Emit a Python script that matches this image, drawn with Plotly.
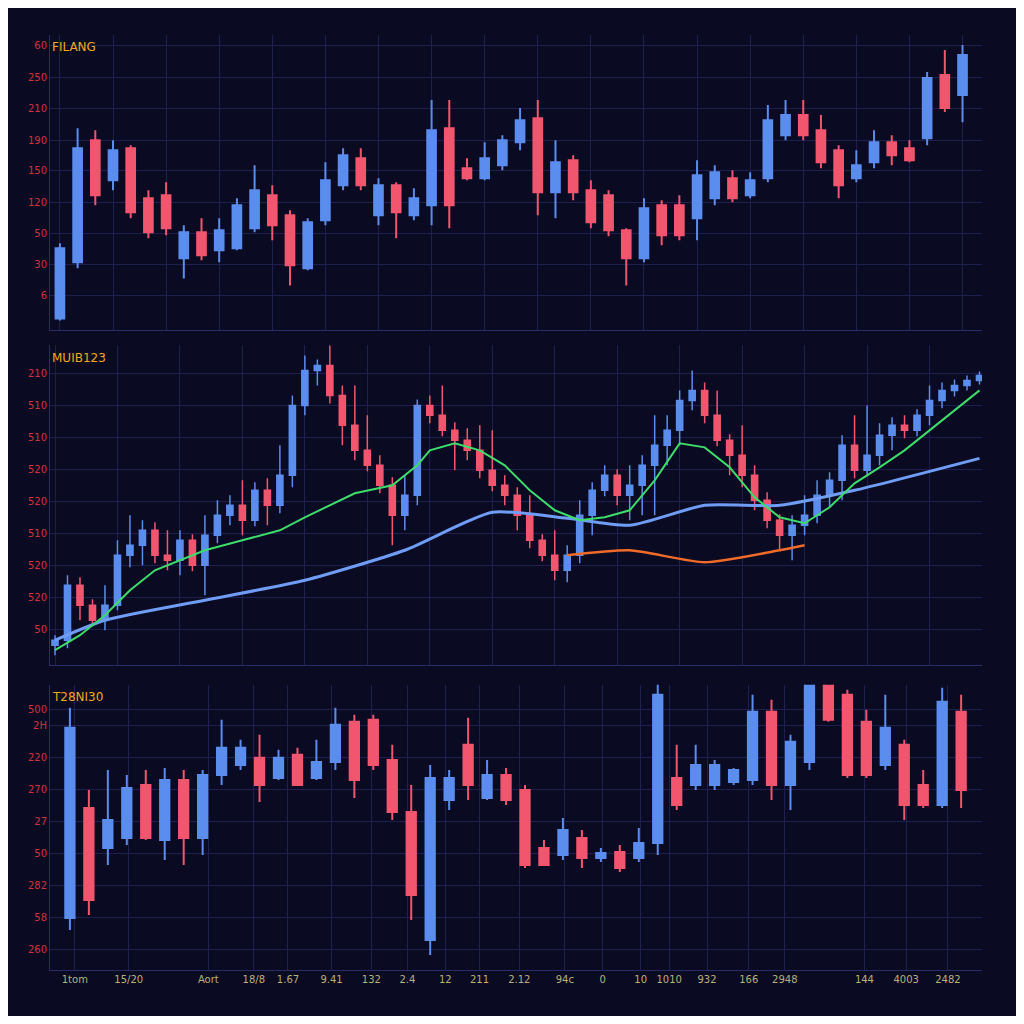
import plotly.graph_objects as go

# ---- top panel ----
top_open = [12,68,190,150,182,132,135,72,98,80,82,102,135,115,62,110,145,172,115,145,115,125,202,162,152,165,188,212,138,170,140,135,100,72,125,125,112,132,152,135,152,195,215,200,180,152,168,188,182,192,255,235]
top_close = [82,182,135,180,118,98,102,98,75,100,125,140,105,65,108,150,175,145,145,118,132,200,125,152,172,190,210,138,168,138,108,100,72,122,95,95,155,158,132,150,210,215,195,168,145,165,188,175,170,252,222,275]
top_high = [87,202,200,190,185,140,148,105,112,112,132,165,145,120,112,168,182,182,152,148,142,230,230,172,188,195,222,230,190,175,150,140,102,132,130,135,170,165,160,158,225,230,230,215,185,180,200,195,190,258,280,285]
top_low = [10,62,125,140,112,92,95,52,70,68,80,98,90,45,60,105,140,140,105,92,110,105,102,150,150,160,180,115,112,130,102,94,45,68,85,90,90,125,128,132,148,190,190,162,132,148,162,165,168,185,218,208]
top_ticks = [35,66,97,128,160,190,222,253,285]
top_labels = ["6","30","50","120","150","190","210","250","60"]

# ---- middle panel ----
mid_close = [25,80,60,45,60,110,
             120,135,110,105,125,100,130,
             150,160,145,175,160,190,
             260,295,300,
             270,240,215,200,
             180,150,170,
             260,250,235,225,215,
             195,180,170,150,
             125,110,95,110,
             150,175,190,170,180,
             200,220,235,265,275,
             250,225,210,190,165,
             145,130,140,150,
             170,185,220,195,
             210,230,240,235,250,
             265,275,280,285,290]
mid_first_open = 20
mid_wick_up = [5,10,8,6,20,15,30,10,8,25,10,6,20,15,10,25,8,12,30,10,15,6,25,10,40,35,10,8,20,6,10,30,8,12,25,40,10,8,20,6,25,10,15,8,10,6,20,10,30,15,10,20,8,25,6,30,10,8,6,10,20,15,8,10,30,50,12,8,10,6,15,8,6,5,4]
mid_wick_dn = [10,8,15,6,10,5,12,20,8,10,15,6,30,8,10,15,6,20,8,12,10,15,8,20,10,6,8,30,15,10,8,6,30,10,8,6,10,15,8,6,10,12,8,20,6,10,25,30,50,20,15,10,8,6,20,12,10,8,15,25,10,8,12,20,8,6,10,15,8,6,10,8,6,5,4]
green_x = [0,2,4,6,8,10,12,15,18,20,22,24,27,29,30,32,34,36,38,40,42,44,46,48,50,52,54,56,58,60,62,64,66,68,70,72,74]
green_y = [15,30,50,75,95,105,115,125,135,148,160,172,180,200,215,222,215,200,175,155,145,148,155,185,222,218,198,168,148,142,158,182,198,215,235,255,275]
blue_x = [0,4,12,20,28,35,41,46,52,58,64,74]
blue_y = [25,45,65,85,115,153,147,140,160,160,175,207]
orange_x = [41,46,52,58,60]
orange_y = [110,115,103,115,120]
mid_ticks = [36,68,100,132,164,196,228,260,292]
mid_labels = ["50","520","520","510","520","520","510","510","210"]

# ---- bottom panel ----
bot_open = [52,162,122,132,185,130,190,132,195,205,212,192,215,192,208,248,250,210,158,30,170,225,172,195,180,122,115,132,112,118,112,127,192,185,185,188,190,258,185,208,318,275,248,205,225,185,165,258]
bot_close = [242,70,150,182,132,190,132,195,222,222,185,212,185,208,245,190,205,158,75,192,192,185,195,170,105,105,140,112,117,102,127,275,165,205,205,200,258,185,228,325,250,195,195,242,165,165,268,180]
bot_high = [262,180,200,195,200,202,200,200,250,230,235,220,222,230,262,255,255,225,185,205,200,252,210,202,185,130,152,140,122,125,142,287,225,225,210,202,275,270,235,362,330,280,260,275,230,200,282,275]
bot_low = [40,55,105,125,130,110,105,115,185,200,168,190,185,190,200,172,200,150,50,15,160,170,170,165,102,104,110,102,108,98,108,115,160,180,180,185,185,170,160,200,248,192,192,200,150,162,162,162]
bot_ticks = [20,52,84,116,148,180,212,244,260]
bot_labels = ["260","58","282","50","27","270","220","2H","500"]
x_tickvals = [0.26,3.1,7.3,9.7,11.5,13.8,15.9,17.8,19.8,21.6,23.7,26.1,28.1,30.1,31.6,33.6,35.8,37.7,41.9,44.1,46.3]
x_ticktext = ["1tom","15/20","Aort","18/8","1.67","9.41","132","2.4","12","211","2.12","94c","0","10","1010","932","166","2948","144","4003","2482"]

titles = ["FILANG", "MUIB123", "T28NI30"]

BLUE = "#5b8def"
RED = "#f2566f"
BG = "#0a0a22"
GRID = "#1d1f4e"

mid_open = [mid_first_open] + mid_close[:-1]
mid_high = [max(o, c) + w for o, c, w in zip(mid_open, mid_close, mid_wick_up)]
mid_low = [min(o, c) - w for o, c, w in zip(mid_open, mid_close, mid_wick_dn)]

fig = go.Figure()

def candle(x, o, h, l, c, xa, ya, lw):
    return go.Candlestick(
        x=x, open=o, high=h, low=l, close=c, xaxis=xa, yaxis=ya,
        increasing=dict(line=dict(color=BLUE, width=lw), fillcolor=BLUE),
        decreasing=dict(line=dict(color=RED, width=lw), fillcolor=RED),
        whiskerwidth=0, showlegend=False, hoverinfo="skip")

fig.add_trace(candle(list(range(len(top_open))), top_open, top_high, top_low, top_close, "x", "y", 2))
fig.add_trace(candle(list(range(len(mid_close))), mid_open, mid_high, mid_low, mid_close, "x2", "y2", 1.5))
fig.add_trace(go.Scatter(x=blue_x, y=blue_y, mode="lines", line=dict(color="#6f9cf5", width=3, shape="spline", smoothing=0.6), xaxis="x2", yaxis="y2", showlegend=False))
fig.add_trace(go.Scatter(x=orange_x, y=orange_y, mode="lines", line=dict(color="#f06a2a", width=2.5, shape="spline", smoothing=0.6), xaxis="x2", yaxis="y2", showlegend=False))
fig.add_trace(go.Scatter(x=green_x, y=green_y, mode="lines", line=dict(color="#3ddc6a", width=2), xaxis="x2", yaxis="y2", showlegend=False))
fig.add_trace(candle(list(range(len(bot_open))), bot_open, bot_high, bot_low, bot_close, "x3", "y3", 2))

ax = dict(showgrid=True, gridcolor=GRID, zeroline=False, showline=True, linecolor="#2a2c66",
          rangeslider=dict(visible=False), tickfont=dict(color="#b9b07a", size=10, family="DejaVu Sans"))
ay = dict(showgrid=True, gridcolor=GRID, zeroline=False, showline=True, linecolor="#2a2c66",
          tickfont=dict(color="#d0323c", size=10, family="DejaVu Sans"), tickmode="array", ticks="")

fig.update_layout(
    width=1008, height=1008, paper_bgcolor=BG, plot_bgcolor=BG,
    margin=dict(l=42, r=34, t=27, b=46),
    xaxis=dict(ax, domain=[0, 1], anchor="y", range=[-0.56, 52.1], showticklabels=False, dtick=3),
    yaxis=dict(ay, domain=[0.684, 1], range=[0, 295], tickvals=top_ticks, ticktext=top_labels),
    xaxis2=dict(ax, domain=[0, 1], anchor="y2", range=[-0.4, 74.2], showticklabels=False, dtick=5),
    yaxis2=dict(ay, domain=[0.326, 0.668], range=[0, 320], tickvals=mid_ticks, ticktext=mid_labels),
    xaxis3=dict(ax, domain=[0, 1], anchor="y3", range=[-1.05, 48.1], tickmode="array",
                tickvals=x_tickvals, ticktext=x_ticktext, ticks=""),
    yaxis3=dict(ay, domain=[0, 0.305], range=[0, 285], tickvals=bot_ticks, ticktext=bot_labels),
)
for yref, t in zip(["y domain", "y2 domain", "y3 domain"], titles):
    fig.add_annotation(text=t, xref="paper", yref=yref, x=0.0, y=0.99, xanchor="left", yanchor="top",
                       showarrow=False, font=dict(color="#f0a81c", size=12, family="DejaVu Sans"))

fig.write_html("out.html")
